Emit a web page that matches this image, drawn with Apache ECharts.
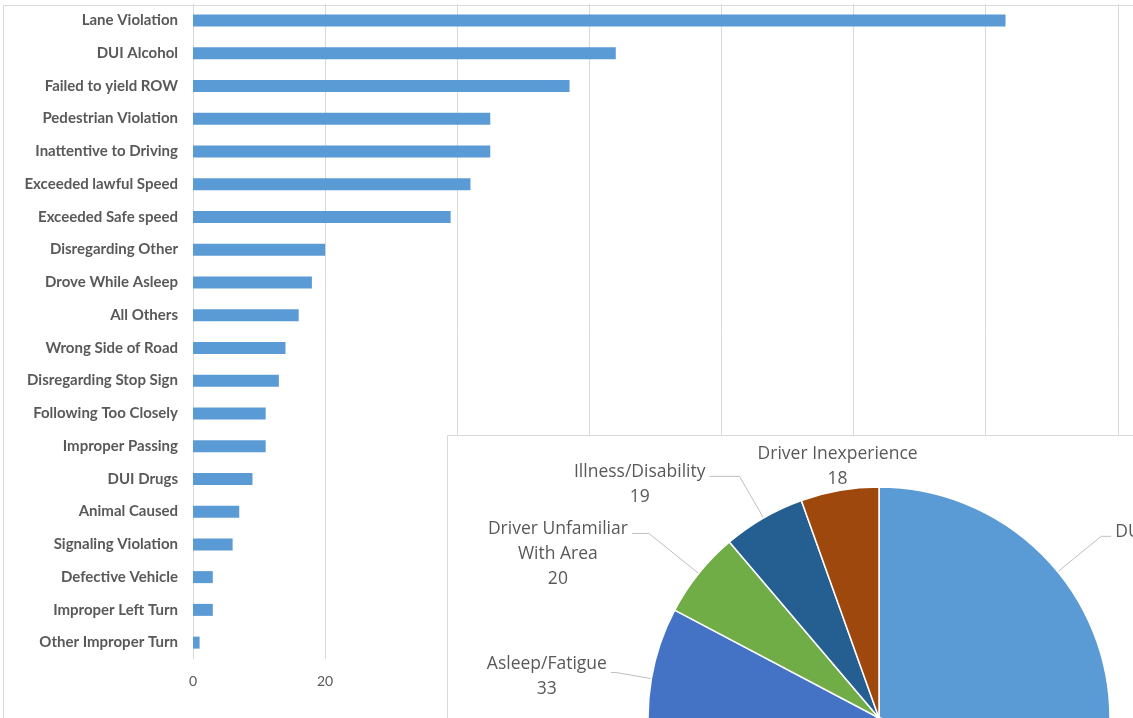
<!DOCTYPE html>
<html>
<head>
<meta charset="utf-8">
<script src="https://cdn.jsdelivr.net/npm/echarts@6/dist/echarts.min.js"></script>
<style>
  html, body { margin: 0; padding: 0; background: #ffffff; }
  #chart { width: 1133px; height: 718px; }
</style>
</head>
<body>
<div id="chart"></div>
<script>
// Primary violation per crash (bar chart)
const violationNames = [
  'Lane Violation', 'DUI Alcohol', 'Failed to yield ROW', 'Pedestrian Violation',
  'Inattentive to Driving', 'Exceeded lawful Speed', 'Exceeded Safe speed',
  'Disregarding Other', 'Drove While Asleep', 'All Others', 'Wrong Side of Road',
  'Disregarding Stop Sign', 'Following Too Closely', 'Improper Passing', 'DUI Drugs',
  'Animal Caused', 'Signaling Violation', 'Defective Vehicle', 'Improper Left Turn',
  'Other Improper Turn'
];
const violationCounts = [123, 64, 57, 45, 45, 42, 39, 20, 18, 16, 14, 13, 11, 11, 9, 7, 6, 3, 3, 1];
const countAxisMax = 140;
const countAxisStep = 20;

// Driver condition factors (pie chart)
const factorNames = ['DUI Alcohol/Drugs', 'Other factors', 'Asleep/Fatigue', 'Driver Unfamiliar With Area', 'Illness/Disability', 'Driver Inexperience'];
const factorCounts = [93, 147, 33, 20, 19, 18];

const sliceColors = ['#5B9BD5', '#ED7D31', '#4472C4', '#70AD47', '#255E91', '#9E480E'];
// leader line [radial length, horizontal length] for each labelled slice
const leaderLengths = {
  'DUI Alcohol/Drugs': [56, 10],
  'Asleep/Fatigue': [36, 5],
  'Driver Unfamiliar With Area': [64, 17],
  'Illness/Disability': [48, 30],
  'Driver Inexperience': [2, 0]
};
const hiddenLeader = { 'Driver Inexperience': true };
const raiseLabel = { 'Asleep/Fatigue': 4 };
const LABEL_LH = 25;

function wrapWords(text, maxChars) {
  const lines = [];
  let cur = '';
  text.split(' ').forEach(function (w) {
    if (cur && (cur + ' ' + w).length > maxChars) { lines.push(cur); cur = w; }
    else { cur = cur ? cur + ' ' + w : w; }
  });
  if (cur) lines.push(cur);
  return lines;
}

const pieData = factorNames.map(function (name, i) {
  const item = { name: name, value: factorCounts[i], itemStyle: { color: sliceColors[i] } };
  const lens = leaderLengths[name];
  if (lens) {
    item.labelLine = {
      length: lens[0], length2: lens[1],
      lineStyle: hiddenLeader[name] ? { opacity: 0 } : undefined
    };
  } else {
    item.label = { show: false };
    item.labelLine = { show: false };
  }
  return item;
});

const chart = echarts.init(document.getElementById('chart'), null, { renderer: 'canvas' });

chart.setOption({
  animation: false,
  backgroundColor: '#ffffff',
  grid: { left: 193, right: 14, top: 4, bottom: 59, containLabel: false },
  xAxis: {
    type: 'value',
    min: 0, max: countAxisMax, interval: countAxisStep,
    axisLine: { show: false },
    axisTick: { show: false },
    splitLine: { show: true, lineStyle: { color: '#d9d9d9', width: 1 } },
    axisLabel: { color: '#595959', fontSize: 14, fontFamily: 'Lato', margin: 15 }
  },
  yAxis: {
    type: 'category',
    inverse: true,
    data: violationNames,
    axisLine: { show: true, lineStyle: { color: '#d9d9d9', width: 1 } },
    axisTick: { show: false },
    axisLabel: { color: '#595959', fontSize: 15, fontWeight: 'bold', fontFamily: 'Lato', margin: 15 }
  },
  graphic: [
    { type: 'line', z: 1, silent: true, shape: { x1: 3.5, y1: 5, x2: 3.5, y2: 718 }, style: { stroke: '#d9d9d9', lineWidth: 1 } },
    { type: 'line', z: 1, silent: true, shape: { x1: 3, y1: 5.5, x2: 1133, y2: 5.5 }, style: { stroke: '#d9d9d9', lineWidth: 1 } },
    { type: 'rect', z: 50, silent: true, shape: { x: 447.5, y: 435.5, width: 720, height: 320 }, style: { fill: '#ffffff', stroke: '#d9d9d9', lineWidth: 1 } }
  ],
  series: [
    {
      type: 'bar',
      data: violationCounts,
      barWidth: 12,
      itemStyle: { color: '#5B9BD5' },
      z: 2
    },
    {
      type: 'pie',
      z: 60,
      center: [879, 718],
      radius: 231,
      startAngle: 90,
      clockwise: true,
      avoidLabelOverlap: false,
      data: pieData,
      itemStyle: { borderColor: '#ffffff', borderWidth: 1.5 },
      label: {
        show: true,
        position: 'outside',
        formatter: function (p) {
          return wrapWords(p.name, 19).map(function (l) { return '{n|' + l + '}'; }).join('\n') + '\n{n|' + p.value + '}';
        },
        rich: {
          n: { fontSize: 17.5, lineHeight: LABEL_LH, color: '#595959', fontFamily: 'Open Sans', align: 'center' }
        }
      },
      labelLine: { show: true, lineStyle: { color: '#bfbfbf', width: 1 } },
      labelLayout: function (p) {
        const pts = p.labelLinePoints;
        if (!pts) return {};
        const name = factorNames[p.dataIndex];
        const edge = pts[0], end = pts[2];
        if (hiddenLeader[name]) {
          return { x: edge[0] - 2, y: edge[1] + 1, align: 'center', verticalAlign: 'bottom' };
        }
        const left = end[0] < edge[0];
        return {
          x: end[0] + (left ? -4 : 4),
          y: end[1] - LABEL_LH / 2 - 4 - (raiseLabel[name] || 0),
          align: left ? 'right' : 'left',
          verticalAlign: 'top',
          labelLinePoints: pts
        };
      }
    }
  ]
});
</script>
</body>
</html>
